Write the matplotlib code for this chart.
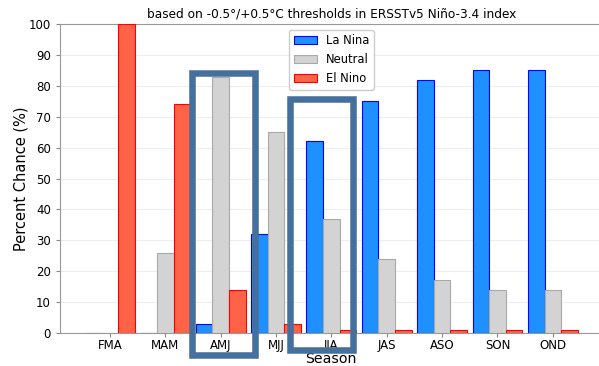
import matplotlib.pyplot as plt
import numpy as np
from matplotlib.patches import Rectangle

seasons = ["FMA", "MAM", "AMJ", "MJJ", "JJA", "JAS", "ASO", "SON", "OND"]
la_nina = [0, 0, 3, 32, 62, 75, 82, 85, 85]
neutral = [0, 26, 83, 65, 37, 24, 17, 14, 14]
el_nino = [100, 74, 14, 3, 1, 1, 1, 1, 1]

# highlighted seasons (drawn as thick boxes on top)
highlight = ["AMJ", "JJA"]

fig = plt.figure(figsize=(5.99, 3.66), dpi=100)
ax = fig.add_axes([0.1002, 0.0902, 0.906, 0.844])

x = np.arange(len(seasons))
w = 0.3
ax.bar(x - w, la_nina, w, color="#1e90ff", edgecolor="blue", linewidth=0.8, label="La Nina", zorder=3)
ax.bar(x, neutral, w, color="lightgray", edgecolor="darkgray", linewidth=0.8, label="Neutral", zorder=3)
ax.bar(x + w, el_nino, w, color="tomato", edgecolor="red", linewidth=0.8, label="El Nino", zorder=3)

ax.set_xlim(-0.9, 8.9)
ax.set_ylim(0, 100)
ax.set_yticks(np.arange(0, 101, 10))
ax.set_xticks(x)
ax.set_xticklabels(seasons)
ax.tick_params(labelsize=8.5, color="#888888", length=3)
ax.tick_params(axis="x", pad=1.3)
ax.grid(axis="y", color="#eeeeee", linewidth=0.8, zorder=0)
for s in ax.spines.values():
    s.set_color("#999999")
ax.spines["right"].set_visible(False)

ax.set_ylabel("Percent Chance (%)", fontsize=10.5, labelpad=0.5)
ax.set_xlabel("Season", fontsize=10.2, labelpad=0)
ax.set_title("based on -0.5°/+0.5°C thresholds in ERSSTv5 Niño-3.4 index", fontsize=8.7, pad=5)
ax.legend(loc="upper center", fontsize=8.3, framealpha=1)

# annotation boxes
boxes = {"AMJ": (-0.51, 0.62, -7.0, 84.3), "JJA": (-0.74, 0.39, -5.5, 75.9)}
for name in highlight:
    i = seasons.index(name)
    l, r, b, t = boxes[name]
    ax.add_patch(Rectangle((i + l, b), r - l, t - b, fill=False, edgecolor="#45709d",
                           linewidth=4.7, clip_on=False, zorder=5))

fig.savefig("out.png", dpi=100)
